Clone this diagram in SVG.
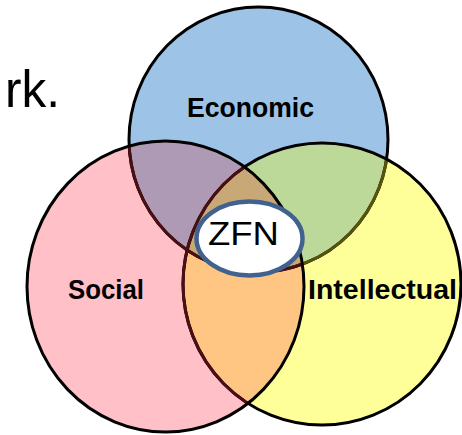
<svg xmlns="http://www.w3.org/2000/svg" width="462" height="435" viewBox="0 0 462 435">
<style>
.lbl{font-family:"Liberation Sans",Arial,sans-serif;font-weight:bold;font-size:27px;fill:#000;text-anchor:middle}
.ring{fill:none;stroke:#000;stroke-width:3}
</style>
<defs>
<ellipse id="eco" cx="258.5" cy="139.5" rx="129.5" ry="132.5"/>
<ellipse id="soc" cx="165.5" cy="286.5" rx="138.5" ry="145.5"/>
<ellipse id="int" cx="322" cy="284" rx="139" ry="141"/>
<clipPath id="cEco"><use href="#eco"/></clipPath>
<clipPath id="cSoc"><use href="#soc"/></clipPath>
<clipPath id="cInt"><use href="#int"/></clipPath>
</defs>
<rect width="462" height="435" fill="#fff"/>
<text x="5" y="107" font-family="Liberation Sans,Arial,sans-serif" font-size="52" textLength="55" lengthAdjust="spacingAndGlyphs" fill="#000">rk.</text>
<g id="fills">
<use href="#eco" fill="#9DC3E6"/>
<use href="#int" fill="#FFFF99"/>
<use href="#soc" fill="#FFC1C7"/>
<use href="#soc" fill="#AE9AB4" clip-path="url(#cEco)"/>
<use href="#int" fill="#BDD99A" clip-path="url(#cEco)"/>
<use href="#soc" fill="#FFC583" clip-path="url(#cInt)"/>
<g clip-path="url(#cEco)"><use href="#soc" fill="#C9A877" clip-path="url(#cInt)"/></g>
</g>
<g id="economic">
<use href="#eco" class="ring"/>
<use href="#eco" class="ring" style="stroke:#55550A" clip-path="url(#cInt)"/>
<use href="#eco" class="ring" style="stroke:#4A0E14" clip-path="url(#cSoc)"/>
<text class="lbl" x="250.5" y="117" textLength="127" lengthAdjust="spacingAndGlyphs">Economic</text>
</g>
<g id="intellectual">
<use href="#int" class="ring"/>
<use href="#int" class="ring" style="stroke:#4A0E14" clip-path="url(#cSoc)"/>
<text class="lbl" x="382.5" y="299" textLength="149" lengthAdjust="spacingAndGlyphs">Intellectual</text>
</g>
<g id="social">
<use href="#soc" class="ring"/>
<text class="lbl" x="106" y="299" textLength="76" lengthAdjust="spacingAndGlyphs">Social</text>
</g>
<g id="zfn">
<ellipse cx="249.5" cy="238.5" rx="53" ry="37" fill="#fff" stroke="#41618F" stroke-width="4.5"/>
<text x="243.5" y="245" font-family="Liberation Sans,Arial,sans-serif" font-size="34" text-anchor="middle" textLength="71" lengthAdjust="spacingAndGlyphs" fill="#000">ZFN</text>
</g>
</svg>
